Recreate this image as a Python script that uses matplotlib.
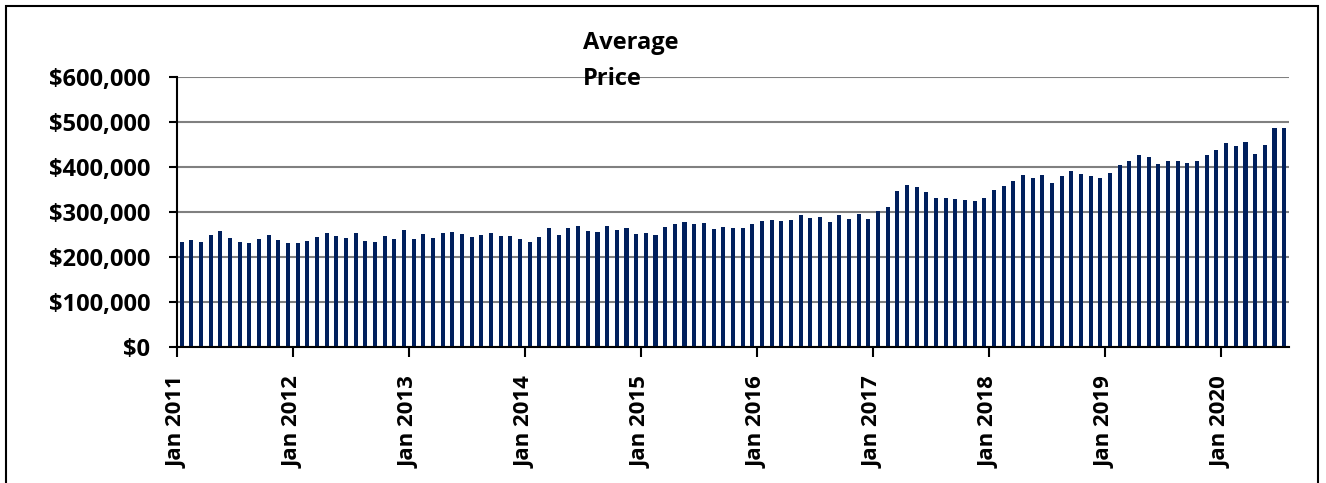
import matplotlib.pyplot as plt
from matplotlib.patches import Rectangle
from matplotlib.ticker import FuncFormatter

plt.rcParams['font.family'] = ['Open Sans', 'DejaVu Sans']
plt.rcParams['font.weight'] = 'bold'

# monthly average price, Jan 2011 .. Jul 2020 (in $ thousands)
prices_2011 = [233, 236, 233, 248, 257, 241, 233, 230, 239, 248, 237, 230]
prices_2012 = [230, 235, 244, 253, 246, 241, 253, 235, 233, 246, 239, 259]
prices_2013 = [239, 250, 241, 253, 255, 250, 244, 248, 253, 246, 246, 239]
prices_2014 = [233, 244, 264, 248, 264, 268, 257, 255, 268, 259, 264, 250]
prices_2015 = [253, 248, 266, 273, 277, 273, 275, 261, 266, 264, 264, 273]
prices_2016 = [279, 281, 279, 281, 293, 286, 288, 277, 293, 284, 295, 284]
prices_2017 = [302, 310, 346, 359, 355, 344, 330, 330, 328, 326, 324, 330]
prices_2018 = [348, 357, 368, 382, 375, 382, 364, 379, 390, 384, 379, 375]
prices_2019 = [386, 404, 413, 426, 422, 406, 413, 413, 408, 413, 425, 436]
prices_2020 = [452, 447, 454, 429, 449, 485, 485]

years = [2011, 2012, 2013, 2014, 2015, 2016, 2017, 2018, 2019, 2020]
year_labels = ['Jan %d' % y for y in years]

prices = (prices_2011 + prices_2012 + prices_2013 + prices_2014 + prices_2015
          + prices_2016 + prices_2017 + prices_2018 + prices_2019 + prices_2020)
prices = [p * 1000 for p in prices]

fig = plt.figure(figsize=(13.26, 4.83), dpi=100)
ax = fig.add_axes([0.1333, 0.2822, 0.8388, 0.559])

x = [i + 0.5 for i in range(len(prices))]
ax.bar(x, prices, width=0.42, color='#001F5C', zorder=3)

ax.set_xlim(0, len(prices))
ax.set_ylim(0, 600000)
ax.set_yticks(range(0, 600001, 100000))
ax.yaxis.set_major_formatter(FuncFormatter(lambda v, p: '${:,.0f}'.format(v)))
ax.set_xticks([12 * i for i in range(len(years))])
ax.set_xticklabels(year_labels, rotation=90)

ax.grid(axis='y', color='#808080', linewidth=1.5, zorder=0)
for side in ['top', 'right']:
    ax.spines[side].set_visible(False)
for side in ['left', 'bottom']:
    ax.spines[side].set_linewidth(1.5)
    ax.spines[side].set_zorder(4)

ax.tick_params(axis='y', length=6, width=1.5, pad=13, labelsize=17)
ax.tick_params(axis='x', length=7, width=1.5, pad=14, labelsize=16)
for lbl in ax.get_xticklabels() + ax.get_yticklabels():
    lbl.set_fontweight('bold')

fig.text(583 / 1326, 0.8985, 'Average', fontsize=17, fontweight='bold',
         ha='left', va='baseline')
fig.text(583 / 1326, 0.824, 'Price', fontsize=17, fontweight='bold',
         ha='left', va='baseline')

# chart border
fig.patches.append(Rectangle((6 / 1326, -0.1), 1312 / 1326, (477 / 483) + 0.1,
                             transform=fig.transFigure, fill=False,
                             edgecolor='black', linewidth=1.5))

fig.savefig('out.png', dpi=100)
